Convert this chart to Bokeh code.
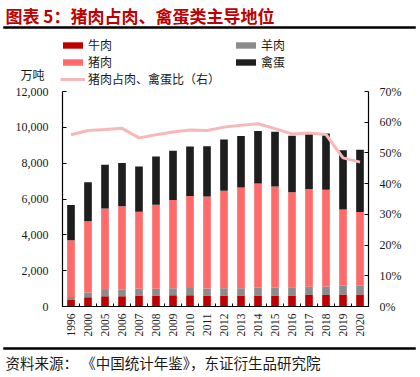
import math
from bokeh.plotting import figure
from bokeh.models import (Range1d, LinearAxis, FixedTicker, NumeralTickFormatter,
                          Legend, LegendItem, Label)
from bokeh.embed import file_html
from bokeh.resources import INLINE

years = ["1996", "2000", "2005", "2006", "2007", "2008", "2009", "2010", "2011",
         "2012", "2013", "2014", "2015", "2016", "2017", "2018", "2019", "2020"]
beef = [356, 513, 568, 577, 613, 613, 626, 629, 610, 615, 614, 616, 617, 617, 635, 644, 667, 672]
mutton = [181, 274, 350, 364, 383, 380, 389, 406, 398, 406, 410, 428, 440, 460, 471, 475, 488, 492]
pork = [3158, 3966, 4555, 4650, 4288, 4682, 4932, 5138, 5131, 5444, 5619, 5821, 5645, 5299,
        5452, 5404, 4255, 4113]
eggs = [1965, 2182, 2438, 2424, 2529, 2702, 2742, 2763, 2811, 2861, 2876, 2930, 3046, 3161,
        3096, 3128, 3309, 3468]
pork_share = [0.559, 0.573, 0.576, 0.580, 0.549, 0.559, 0.568, 0.575, 0.573, 0.584, 0.590,
              0.595, 0.579, 0.562, 0.565, 0.560, 0.484, 0.470]
left_ticks = [0, 2000, 4000, 6000, 8000, 10000, 12000]
right_ticks = [0, 0.1, 0.2, 0.3, 0.4, 0.5, 0.6, 0.7]
y_max = 12000
pct_max = 0.7

CJK = "Noto Sans CJK SC"
SERIF = "Liberation Serif"
colors = ["#c00000", "#8c8c8c", "#ff6b6b", "#1e1e1e"]
line_color = "#f6b8b9"
txt = "#1a1a1a"

# ---- layout geometry (pixels on the 420x377 canvas) ----
W, H = 420, 377
PLOT_TOP, PLOT_BOTTOM = 91, 306      # pixel rows of the value-axis top and zero
FIRST_CENTER, STEP = 70.5, 17.0      # pixel column of first bar centre and bar pitch
RULE_ROWS = (27, 348)                # pixel rows of the two horizontal rules
RULE_LEFT, RULE_RIGHT = 3, 415
RULE_HALF = 1.0                      # half thickness of the rules, pixels

ppu = (PLOT_BOTTOM - PLOT_TOP) / y_max
y_start = -(H - PLOT_BOTTOM) / ppu
y_end = y_max + PLOT_TOP / ppu
pp_pct = (PLOT_BOTTOM - PLOT_TOP) / pct_max
x_start = -FIRST_CENTER / STEP
x_end = (W - FIRST_CENTER) / STEP


def row_to_y(py):
    return y_end - py / ppu


def col_to_x(px):
    return x_start + px / STEP


n = len(years)
xs = list(range(n))

p = figure(x_range=Range1d(x_start, x_end), y_range=Range1d(y_start, y_end),
           width=W, height=H, output_backend="svg", toolbar_location=None,
           min_border_left=0, min_border_right=0, min_border_top=0, min_border_bottom=0)
p.outline_line_color = None
p.xgrid.grid_line_color = None
p.ygrid.grid_line_color = None
p.background_fill_color = "white"
p.border_fill_color = "white"

data = dict(x=xs, beef=beef, mutton=mutton, pork=pork, eggs=eggs)
bars = p.vbar_stack(["beef", "mutton", "pork", "eggs"], x="x", width=0.45,
                    color=colors, source=data, line_color=None)
p.extra_y_ranges = {"pct": Range1d(-(H - PLOT_BOTTOM) / pp_pct, pct_max + PLOT_TOP / pp_pct)}
ln = p.line(xs, pork_share, y_range_name="pct", line_color=line_color, line_width=3)

# horizontal rules under the title and above the source note (thin filled boxes)
p.quad(left=[col_to_x(RULE_LEFT)] * 2, right=[col_to_x(RULE_RIGHT)] * 2,
       top=[row_to_y(r - RULE_HALF) for r in RULE_ROWS],
       bottom=[row_to_y(r + RULE_HALF) for r in RULE_ROWS],
       fill_color="#000000", line_color="#000000", line_width=0.5)

# axes fixed to the chart box
ya = p.yaxis[0]
ya.fixed_location = -0.5
ya.bounds = (0, y_max)
ya.ticker = FixedTicker(ticks=left_ticks)
ya.formatter = NumeralTickFormatter(format="0,0")
ya.major_label_standoff = 14

ra = LinearAxis(y_range_name="pct", ticker=FixedTicker(ticks=right_ticks),
                formatter=NumeralTickFormatter(format="0%"))
ra.fixed_location = n - 0.5
ra.bounds = (0, pct_max)
ra.major_label_standoff = 11
p.add_layout(ra, "right")

xa = p.xaxis[0]
xa.fixed_location = 0
xa.bounds = (-0.5, n - 0.5)
xa.ticker = FixedTicker(ticks=xs, minor_ticks=[i - 0.5 for i in range(n + 1)])
xa.major_label_overrides = {i: y for i, y in enumerate(years)}
xa.major_label_orientation = math.pi / 2
xa.major_label_standoff = 7

for ax in [ya, ra, xa]:
    ax.axis_line_color = "#000000"
    ax.axis_line_width = 1.2
    ax.major_tick_in = 4
    ax.major_tick_out = 0
    ax.minor_tick_line_color = None
    ax.major_tick_line_color = "#000000"
    ax.major_label_text_font = SERIF
    ax.major_label_text_font_size = "12px"
    ax.major_label_text_color = txt
xa.major_tick_line_color = None
xa.minor_tick_line_color = "#000000"
xa.minor_tick_in = 3
xa.minor_tick_out = 0
xa.major_label_text_font_size = "11.5px"

legend = Legend(items=[
    LegendItem(label="牛肉", renderers=[bars[0]]),
    LegendItem(label="猪肉", renderers=[bars[2]]),
    LegendItem(label="猪肉占肉、禽蛋比（右）", renderers=[ln]),
    LegendItem(label="羊肉", renderers=[bars[1]]),
    LegendItem(label="禽蛋", renderers=[bars[3]]),
], ncols=2, location=(60, H - 87), orientation="vertical")
legend.padding = 0
legend.margin = 0
legend.spacing = 0
legend.glyph_width = 25
legend.glyph_height = 8
legend.label_height = 16
legend.label_width = 145
legend.label_standoff = 3
legend.label_text_font = CJK
legend.label_text_font_size = "12px"
legend.label_text_color = txt
legend.border_line_color = None
legend.background_fill_alpha = 0
p.add_layout(legend, "center")

p.add_layout(Label(x=32, y=H - 74, x_units="screen", y_units="screen", text="万吨",
                   text_font=CJK, text_font_size="12px", text_align="center",
                   text_baseline="middle", text_color=txt))
p.add_layout(Label(x=5, y=H - 15, x_units="screen", y_units="screen",
                   text="图表 5：猪肉占肉、禽蛋类主导地位",
                   text_font=CJK, text_font_size="17px", text_font_style="bold",
                   text_align="left", text_baseline="middle", text_color="#c00000"))
p.add_layout(Label(x=5, y=H - 362, x_units="screen", y_units="screen",
                   text="资料来源：  《中国统计年鉴》，东证衍生品研究院",
                   text_font=CJK, text_font_size="14.5px",
                   text_align="left", text_baseline="middle", text_color=txt))

open("out.html", "w").write(file_html(p, INLINE))
